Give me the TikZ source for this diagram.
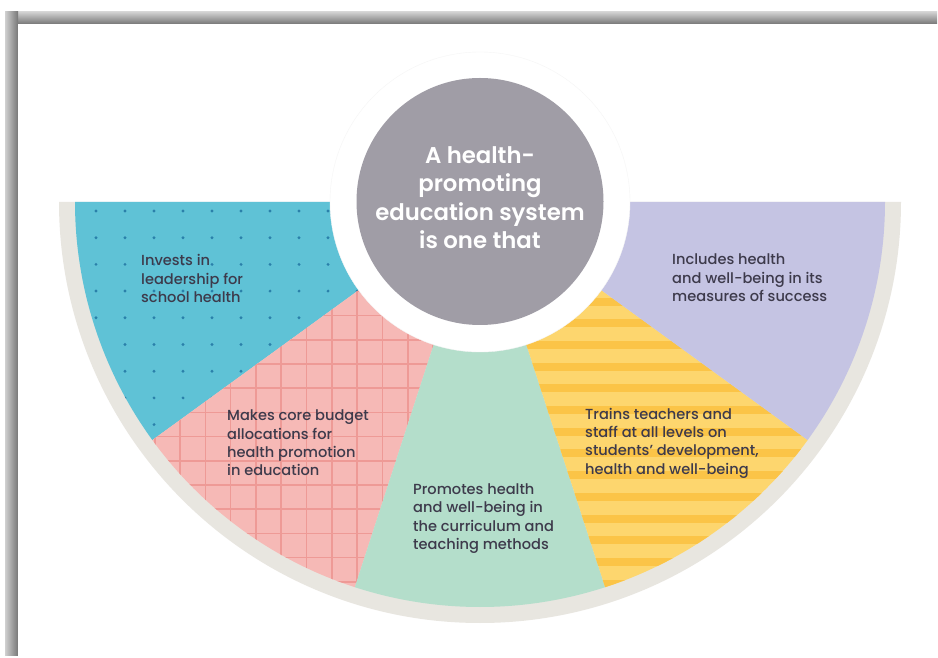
\documentclass[tikz,border=0pt]{standalone}
\usepackage{fontspec}
\setmainfont{Poppins}
\newfontfamily\semib{Poppins}[UprightFont=* SemiBold]
\newfontfamily\medf{Poppins}[UprightFont=* Medium]
\definecolor{cblue}{HTML}{5FC2D6}
\definecolor{cdot}{HTML}{2A80AA}
\definecolor{cpink}{HTML}{F6B9B6}
\definecolor{cgrid}{HTML}{EE9A96}
\definecolor{cgreen}{HTML}{B4DECB}
\definecolor{cyel}{HTML}{FDD66E}
\definecolor{cstripe}{HTML}{FBC447}
\definecolor{clav}{HTML}{C5C4E3}
\definecolor{cband}{HTML}{E8E6E0}
\definecolor{ccenter}{HTML}{A09DA6}
\definecolor{ctext}{HTML}{3D3A4B}
\definecolor{shdark}{HTML}{777777}
\definecolor{shlight}{HTML}{D0D0D0}
\begin{document}
\begin{tikzpicture}[x=1pt,y=1pt,
  seglabel/.style={font=\medf\fontsize{14.6}{18.4}\selectfont, text=ctext, align=left, anchor=west, inner sep=0pt},
  hubtext/.style={font=\semib\fontsize{22.8}{28.5}\selectfont, text=white, align=center, inner sep=0pt}]
\useasboundingbox (0,0) rectangle (938,657);
\fill[white] (0,0) rectangle (938,657);
% frame shadow
\shade[top color=shlight, bottom color=shdark] (5,633) rectangle (937,645);
\shade[left color=shlight, right color=shdark] (5,2) rectangle (18,645);
\fill[white] (18,0) rectangle (938,633);
\coordinate (C) at (480,455);
% outer band
\fill[cband] (C) -- ++(180:421) arc[start angle=180,end angle=360,radius=421] -- cycle;
% blue wedge
\fill[cblue] (C) -- ++(180:405) arc[start angle=180,end angle=216,radius=405] -- cycle;
\begin{scope}
\clip (C) -- ++(180:405) arc[start angle=180,end angle=216,radius=405] -- cycle;
\foreach \i in {0,...,13} \foreach \j in {0,...,10} \fill[cdot] ({96+29*\i},{446-26.7*\j}) circle[radius=1.6];
\end{scope}
% pink wedge
\fill[cpink] (C) -- ++(216:405) arc[start angle=216,end angle=252,radius=405] -- cycle;
\begin{scope}
\clip (C) -- ++(216:405) arc[start angle=216,end angle=252,radius=405] -- cycle;
\foreach \k in {-4,...,12} \draw[cgrid, line width=1.6] ({180+25.3*\k},0) -- ({180+25.3*\k},460);
\foreach \j in {-4,...,14} \draw[cgrid, line width=1.6] (60,{293-24.2*\j}) -- (500,{293-24.2*\j});
\end{scope}
% green wedge
\fill[cgreen] (C) -- ++(252:405) arc[start angle=252,end angle=288,radius=405] -- cycle;
% yellow wedge
\fill[cyel] (C) -- ++(288:405) arc[start angle=288,end angle=324,radius=405] -- cycle;
\begin{scope}
\clip (C) -- ++(288:405) arc[start angle=288,end angle=324,radius=405] -- cycle;
\foreach \k in {-4,...,14} \fill[cstripe] (460,{308-21.7*\k}) rectangle (900,{316-21.7*\k});
\end{scope}
% lavender wedge
\fill[clav] (C) -- ++(324:405) arc[start angle=324,end angle=360,radius=405] -- cycle;
% hub
\node[circle, fill=white, draw=black!4, minimum size=300pt, inner sep=0pt] (ring) at (480,455) {};
\node[circle, fill=ccenter, minimum size=247pt, inner sep=0pt] (hub) at (480,455.5) {};
\node[hubtext] (hubtxt) at (480,459.5) {A health-\\promoting\\education system\\is one that};
% labels
\node[seglabel] (t1) at (141,378.5) {Invests in\\leadership for\\school health};
\node[seglabel] (t2) at (227,214) {Makes core budget\\allocations for\\health promotion\\in education};
\node[seglabel] (t3) at (413,138.5) {Promotes health\\and well-being in\\the curriculum and\\teaching methods};
\node[seglabel] (t4) at (585,214) {Trains teachers and\\staff at all levels on\\students’ development,\\health and well-being};
\node[seglabel] (t5) at (672,379) {Includes health\\and well-being in its\\measures of success};
\end{tikzpicture}
\end{document}
